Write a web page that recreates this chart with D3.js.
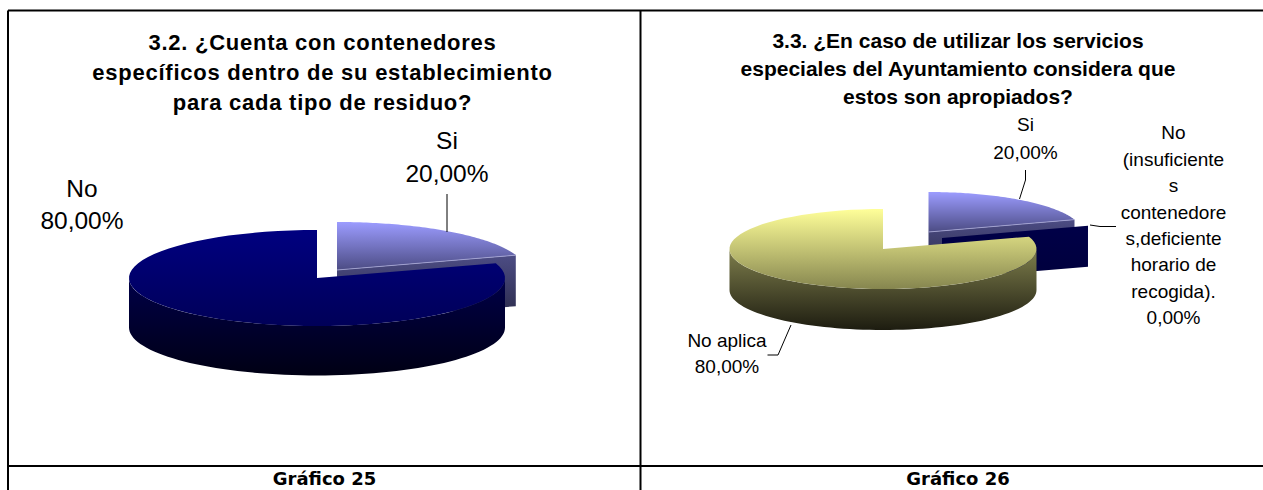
<!DOCTYPE html>
<html><head><meta charset="utf-8">
<script src="https://cdn.jsdelivr.net/npm/d3@7"></script>
<style>html,body{margin:0;padding:0;background:#fff;overflow:hidden}svg{display:block}text{fill:#000;text-anchor:middle}</style>
</head><body><div id="c"></div>
<script>
const leftCategories = ["Si", "No"];
const leftValues = [20, 80];
const rightCategories = ["Si", "No (insuficientes contenedores,deficiente horario de recogida).", "No aplica"];
const rightValues = [20, 0, 80];
const leftTitle = ["3.2. ¿Cuenta con contenedores", "específicos dentro de su establecimiento", "para cada tipo de residuo?"];
const rightTitle = ["3.3. ¿En caso de utilizar los servicios", "especiales del Ayuntamiento considera que", "estos son apropiados?"];
const captions = ["Gráfico 25", "Gráfico 26"];
const fmt = v => d3.format(".2f")(v).replace(".", ",") + "%";

const W = 1263, H = 490;
const svg = d3.select("#c").append("svg").attr("width", W).attr("height", H);
const defs = svg.append("defs");
const grad = (id, a, b) => {
  const g = defs.append("linearGradient").attr("id", id).attr("x1", 0).attr("y1", 0).attr("x2", 0).attr("y2", 1);
  g.append("stop").attr("offset", 0).attr("stop-color", a);
  g.append("stop").attr("offset", 1).attr("stop-color", b);
};
grad("siTop", "#9c9cff", "#4c4c84");
grad("siSide", "#4c4c84", "#2a2a48");
grad("navyTop", "#000080", "#000058");
grad("navySide", "#000048", "#000014");
grad("zeroSide", "#000048", "#00003c");
grad("yelTop", "#ffff99", "#86864f");
grad("yelSide", "#7e7e4c", "#1d1c10");

const styles = {
  si: {top: "url(#siTop)", side: "url(#siSide)"},
  navy: {top: "url(#navyTop)", side: "url(#navySide)"},
  zero: {top: "#000050", side: "url(#zeroSide)"},
  yel: {top: "url(#yelTop)", side: "url(#yelSide)"}
};

function drawPie(cfg) {
  const g = svg.append("g");
  const arcs = d3.pie().sort(null)(cfg.values);
  const order = d3.range(arcs.length);
  order.forEach(i => {
    const a = arcs[i], c = cfg.centers[i], st = styles[cfg.styles[i]];
    const X = t => c[0] + cfg.rx * Math.sin(t);
    const Y = t => c[1] - cfg.ry * Math.cos(t);
    const line = d3.line();
    const sweep = (t0, t1, dy = 0) =>
      d3.range(0, 73).map(k => { const t = t0 + (t1 - t0) * k / 72; return [X(t), Y(t) + dy]; });
    const d = cfg.depth[i];
    const w0 = Math.max(a.startAngle, Math.PI / 2), w1 = Math.min(a.endAngle, 3 * Math.PI / 2);
    if (w1 > w0) {
      g.append("path").attr("fill", st.side)
        .attr("d", line([...sweep(w0, w1), ...sweep(w1, w0, d)]) + "Z");
    }
    if (a.endAngle < Math.PI / 2 + 0.001) {
      const t = a.endAngle;
      g.append("path").attr("fill", st.side)
        .attr("d", line([c, [X(t), Y(t)], [X(t), Y(t) + d], [c[0], c[1] + d]]) + "Z");
    }
    if (a.endAngle > a.startAngle) {
      g.append("path").attr("fill", st.top)
        .attr("d", line([c, ...sweep(a.startAngle, a.endAngle)]) + "Z");
      if (a.endAngle < Math.PI / 2) {
        const t = a.endAngle;
        g.append("path").attr("fill", "none").attr("stroke", "#a9a9d8").attr("stroke-width", 0.8)
          .attr("d", line([c, [X(t), Y(t)]]));
      }
    }
  });
}

const labelBlock = (lines, cx, ys, size) => {
  svg.append("text").attr("font-family", "'Liberation Sans',Arial,sans-serif").attr("font-size", size)
    .selectAll("tspan").data(lines).join("tspan")
    .attr("x", cx).attr("y", (d, i) => ys[i]).attr("dy", "0.35em").text(d => d);
};
const titleBlock = (lines, cx, ys, size, spacing) => {
  svg.append("text").attr("font-family", "'Liberation Sans',Arial,sans-serif").attr("font-weight", "bold")
    .attr("font-size", size).attr("letter-spacing", spacing)
    .selectAll("tspan").data(lines).join("tspan")
    .attr("x", cx).attr("y", (d, i) => ys[i]).attr("dy", "0.35em").text(d => d);
};
const leader = pts => svg.append("path").attr("fill", "none").attr("stroke", "#000").attr("stroke-width", 1)
  .attr("d", d3.line()(pts));

const frame = [[[8, 10.5], [W, 10.5]], [[8, 466], [W, 466]], [[8, 10.5], [8, H]], [[640.5, 10.5], [640.5, H]]];
frame.forEach(p => svg.append("path").attr("stroke", "#000").attr("stroke-width", 2).attr("fill", "none").attr("d", d3.line()(p)));

drawPie({values: leftValues, styles: ["si", "navy"], centers: [[337, 270], [317, 278]], rx: 188, ry: 48, depth: [51, 49.5]});
titleBlock(leftTitle, 322.5, [42, 72, 102], 22, 0.75);
labelBlock([leftCategories[0], fmt(leftValues[0])], 447, [140, 173], 24.5);
labelBlock([leftCategories[1], fmt(leftValues[1])], 82, [188, 220], 24.5);
leader([[447, 194], [447, 232]]);

drawPie({values: rightValues, styles: ["si", "zero", "yel"], centers: [[928.5, 232], [942, 238], [883, 249]], rx: 153.5, ry: 40, depth: [41, 41, 41]});
titleBlock(rightTitle, 958, [41, 69, 97], 21, 0);
labelBlock([rightCategories[0], fmt(rightValues[0])], 1025.5, [124, 152], 19);
labelBlock(["No", "(insuficiente", "s", "contenedore", "s,deficiente", "horario de", "recogida).", fmt(rightValues[1])], 1173.5, [132, 159, 185, 212, 238, 264, 291, 317], 19);
labelBlock([rightCategories[2], fmt(rightValues[2])], 727, [340, 366], 19);
leader([[1025.5, 170], [1025.5, 180], [1019.5, 199]]);
leader([[1090, 225], [1100, 226.5], [1116, 226.5]]);
leader([[791, 325], [778, 355], [767.5, 355]]);

[[324.5, captions[0]], [958, captions[1]]].forEach(([x, t]) => {
  svg.append("text").attr("x", x).attr("y", 485)
    .attr("font-family", "'DejaVu Sans',Verdana,sans-serif").attr("font-weight", "bold").attr("font-size", 18).text(t);
});
</script></body></html>
